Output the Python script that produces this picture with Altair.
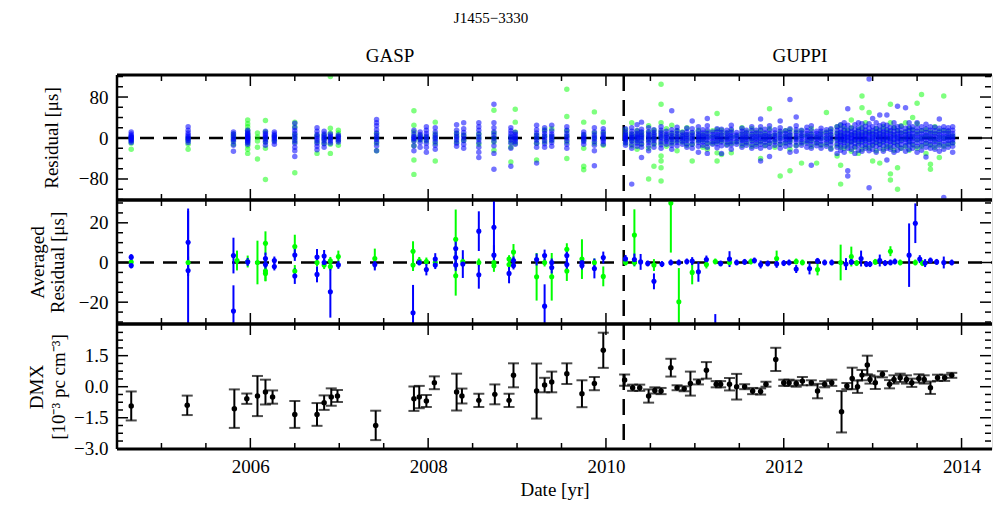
import altair as alt
import pandas as pd

FONT = "Liberation Serif"
W = 875
X_DOMAIN = [2004.5, 2004.5 + W / 88.9]
H_RES, H_AVG, H_DMX = 125, 124, 125
SWITCH_DATE = 2010.2

X_MAJOR = [2006, 2008, 2010, 2012, 2014]
X_MINOR = [2005.0, 2005.5, 2006.5, 2007.0, 2007.5, 2008.5, 2009.0, 2009.5,
           2010.5, 2011.0, 2011.5, 2012.5, 2013.0, 2013.5]

RES_DOMAIN = [-121, 123]
RES_MAJOR = [-80, 0, 80]
RES_MINOR = [-120, -100, -60, -40, -20, 20, 40, 60, 100, 120]
AVG_DOMAIN = [-31, 31.5]
AVG_MAJOR = [-20, 0, 20]
AVG_MINOR = [-30, -25, -15, -10, -5, 5, 10, 15, 25, 30]
DMX_DOMAIN = [-3.01, 3.03]
DMX_MAJOR = [-3.0, -1.5, 0.0, 1.5]
DMX_MINOR = [-2.625, -2.25, -1.875, -1.125, -0.75, -0.375, 0.375, 0.75,
             1.125, 1.875, 2.25, 2.625]

# ---- top panel: per-epoch residuals [us] (blue, green) ----
RES_EPOCHS = [
    (2004.66, "-9 -6 -4 -2 0 1 3 5 8 12", "-22 -10 -4 2"),
    (2005.30, "-9 -5 -2 0 3 6 10 15 22", "-22 -12 -5 0"),
    (2005.81, "-26 -14 -7 -3 0 4 8 12", "-12 -4 3 8"),
    (2005.97, "-12 -9 -6 -4 -2 0 1 3 5 7 9 12 15", "-30 -22 -15 -8 -2 3 9 15 22 28 35"),
    (2006.08, "", "-41 -18 -6 2 10"),
    (2006.17, "-14 -8 -4 0 3 6 9 13", "-81 -20 -8 0 12 34"),
    (2006.27, "-12 -7 -3 0 2 5 8 12", "-5 4"),
    (2006.50, "-36 -25 -18 -10 -5 0 4 9 14 20 29", "-68 -8 0 7 22 31"),
    (2006.75, "-23 -16 -10 -5 -1 3 7 13 20", "-30 -8 5"),
    (2006.83, "-18 -11 -6 -2 1 4 8 13", "-10 -2 6"),
    (2006.90, "-10 -6 -2 1 4 8", "-30 -12 0 10 19 120"),
    (2006.99, "-8 -4 0 3 6", "-14 -5 3 10 15"),
    (2007.42, "-25 -15 -8 -3 1 5 10 16 24 30 36", "-25 -10 0 9"),
    (2007.84, "-25 -15 -6 -2 0 3 8 15", "-71 -43 -15 -5 3 12 25 53"),
    (2007.91, "-18 -9 -3 0 3 7 12", "-4 5"),
    (2007.98, "-28 -18 -10 -4 0 4 9 15 22", "-6 2"),
    (2008.08, "-22 -14 -7 -2 2 6 12 20", "-45 -10 0 8 31"),
    (2008.32, "-16 -10 -4 0 4 9 15 26", "-8 3 10"),
    (2008.40, "-20 -12 -5 0 5 11 18 30", "-5 6"),
    (2008.57, "-38 -28 -18 -9 -3 2 8 15 22 30", "-12 0 8"),
    (2008.74, "-61 -30 -15 -6 0 6 12 20 30 66", "-24 -8 0 10 54"),
    (2008.93, "-55 -20 -10 -4 0 4 9 14 20", "-47 -18 -8 2"),
    (2008.98, "-12 -7 -3 0 3 7 11", "-10 0 12 31 56"),
    (2009.22, "-49 -18 -10 -4 0 5 10 16 25", "-43 -10 0 6"),
    (2009.31, "-18 -11 -5 0 4 9 14 20", "-8 4 16"),
    (2009.39, "-16 -9 -4 0 4 8 14 25", "-5 3 18"),
    (2009.56, "-20 -12 -5 0 4 9 15 22", "-40 -8 4 14 42 95"),
    (2009.75, "-12 -7 -3 0 3 7 12", "-62 -55 -20 -5 6 31"),
    (2009.87, "-54 -25 -14 -7 -2 2 6 12 20", "-10 0 10 51"),
    (2009.97, "-12 -7 -3 0 3 7 12 18", "-14 0 10 31"),
    (2010.22, "-14 -9 -5 -2 0 2 5 8 12 18", "-10 -3 4 9 16"),
    (2010.29, "-90 -20 -12 -6 -2 1 4 8 13 20", "-15 -5 2 8 30"),
    (2010.35, "-16 -10 -5 -1 2 5 9 14 26", "-22 -8 0 6 14"),
    (2010.40, "-38 -18 -11 -5 0 3 7 12 17 31", "-12 -2 5 11"),
    (2010.48, "-25 -15 -9 -4 0 4 8 12 20", "-80 -20 -6 3 12 24"),
    (2010.54, "-18 -10 -5 -1 3 7 11 16", "-55 -12 -2 7 15"),
    (2010.62, "-20 -13 -7 -2 2 6 10 15 22", "-84 -58 -45 -35 -10 2 12 30 66 105"),
    (2010.68, "-12 -7 -3 1 4 8 13", "-16 -4 6 18"),
    (2010.74, "-22 -14 -8 -3 1 5 10 16 53", "-10 0 9 25"),
    (2010.80, "-15 -9 -4 0 4 9 14 21", "-25 -6 5 14"),
    (2010.86, "-12 -6 -2 2 6 11", "-8 3 12"),
    (2010.91, "-18 -11 -5 -1 3 7 12 19", "-14 -3 6 20"),
    (2010.97, "-20 -12 -6 -2 2 6 11 18 33", "-45 -12 0 10"),
    (2011.04, "-28 -16 -9 -4 0 4 8 13 22", "-6 5 15"),
    (2011.09, "-14 -8 -3 1 5 10 16", "-18 -4 7"),
    (2011.14, "-30 -18 -10 -4 0 4 9 15 24 38", "-22 -10 2 12"),
    (2011.20, "-12 -7 -2 2 7 12", "-10 3 14"),
    (2011.25, "-19 -11 -6 -1 3 7 12 18", "-45 -29 -8 4 16 48"),
    (2011.30, "-30 -15 -8 -3 1 6 11 17", "-32 -6 6 15"),
    (2011.36, "-14 -8 -3 1 5 10 15", "-12 0 10"),
    (2011.41, "-22 -13 -7 -2 2 6 11 17 25", "-29 -10 2 14"),
    (2011.47, "-12 -7 -2 2 6 11", "-8 4"),
    (2011.53, "-18 -10 -5 -1 3 8 13 19", "-14 -3 8 20"),
    (2011.58, "-14 -8 -3 1 5 10 15", "-10 2 12"),
    (2011.64, "-20 -12 -6 -1 3 8 14 22", "-16 -4 7 18"),
    (2011.69, "-16 -9 -4 0 4 9 15", "-12 0 11"),
    (2011.74, "-45 -20 -12 -6 -1 3 8 14 22 37", "-40 -8 5 16"),
    (2011.79, "-15 -8 -3 1 5 10 17", "-14 -2 9"),
    (2011.84, "-36 -18 -10 -5 0 4 9 15 24", "-10 4 18 57"),
    (2011.90, "-14 -8 -3 1 5 10 16", "-18 -6 6"),
    (2011.96, "-20 -12 -6 -1 3 8 13 20 33", "-74 -12 0 11"),
    (2012.02, "-16 -9 -4 0 4 9 14", "-10 3 14"),
    (2012.07, "-28 -14 -8 -3 1 6 11 18 75", "-64 -22 -6 6 16"),
    (2012.14, "-26 -15 -8 -3 1 5 10 16 24 41", "-14 0 12"),
    (2012.20, "-14 -8 -3 1 5 10 15", "-49 -10 4 14"),
    (2012.26, "-18 -10 -5 0 4 9 14 21", "-8 5"),
    (2012.31, "-53 -20 -12 -6 -1 3 8 14 24", "-16 -4 8 18"),
    (2012.37, "-15 -9 -4 0 4 9 13", "-49 -10 2"),
    (2012.42, "-20 -12 -6 -1 3 8 13 19", "-14 0 10"),
    (2012.48, "-16 -9 -4 0 5 10 16", "-12 0 12 50"),
    (2012.53, "-22 -13 -7 -2 2 7 12 18", "-20 -6 6 16"),
    (2012.60, "-30 -18 -11 -5 0 4 9 15 22", "-35 -14 -2 10 22"),
    (2012.64, "-24 -14 -8 -3 1 6 11 17 26", "-90 -53 -18 -4 8 25"),
    (2012.68, "-28 -16 -9 -4 0 4 9 15 23 30", "-20 -6 6 18"),
    (2012.72, "-74 -64 -20 -11 -5 0 4 9 15 25 57", "-15 0 14"),
    (2012.76, "-22 -13 -7 -2 2 7 12 19", "-26 -8 6 20 35"),
    (2012.80, "-30 -17 -10 -4 0 5 10 16 26", "-18 -4 10"),
    (2012.84, "-24 -14 -7 -2 3 8 13 20 30", "-30 -10 4 16"),
    (2012.88, "-26 -15 -8 -3 1 6 11 18 28", "-22 -6 8 20 59 82"),
    (2012.92, "-20 -12 -6 -1 4 9 15 23", "-16 -2 12 30"),
    (2012.96, "-97 -25 -15 -8 -3 2 7 12 19 28 115", "-20 -4 10 50"),
    (2013.00, "-22 -13 -7 -2 3 8 14 22 38", "-45 -14 0 12"),
    (2013.04, "-28 -16 -9 -3 2 7 12 19 30", "-25 -8 6 18"),
    (2013.08, "-20 -12 -6 -1 4 9 15 24 45", "-49 -12 2 14"),
    (2013.12, "-26 -15 -8 -3 2 7 12 18 27", "-22 -6 8 22"),
    (2013.16, "-43 -20 -11 -5 0 5 10 16 25 45", "-16 0 14"),
    (2013.20, "-22 -13 -7 -2 3 8 14 21", "-82 -70 -18 -2 12 30 66"),
    (2013.24, "-28 -16 -9 -3 2 7 13 20 30", "-24 -8 6 20"),
    (2013.28, "-24 -14 -7 -2 3 8 14 22 62", "-100 -58 -14 0 14"),
    (2013.32, "-20 -12 -6 -1 4 9 15 23", "-20 -4 10 24"),
    (2013.37, "-26 -15 -8 -3 2 7 12 19 59", "-16 0 12 30"),
    (2013.41, "-22 -13 -7 -2 3 8 14 21 30", "-24 -8 6 18"),
    (2013.45, "-20 -12 -6 -1 4 9 15 22", "-14 2 16 40"),
    (2013.50, "-28 -16 -9 -3 2 7 13 20 30", "-20 -4 10 28 68"),
    (2013.55, "-24 -14 -7 -2 3 8 14 22", "-16 0 14 85"),
    (2013.60, "-37 -18 -10 -4 1 6 11 18 27", "-30 -10 4 16"),
    (2013.65, "-20 -12 -6 -1 4 9 15 22", "-61 -51 -14 0 12"),
    (2013.70, "-22 -13 -7 -2 3 8 14 21", "-18 -4 10 22"),
    (2013.75, "-26 -15 -8 -3 2 7 12 19 37", "-38 -12 2 14"),
    (2013.80, "-116 -22 -13 -6 -1 4 9 15 22", "-16 0 14 82"),
    (2013.85, "-18 -10 -5 0 4 9 14 20", "-12 2 12"),
    (2013.90, "-28 -16 -9 -4 0 4 9 15 22", "-10 4"),
]

# ---- middle panel: averaged residuals (date, value, error) ----
AVG_BLUE = [
    (2004.66, 2.7, 1.5), (2004.66, -1.5, 1.5), (2005.30, 10.2, 17), (2005.30, -4.0, 30),
    (2005.81, 3.5, 9), (2005.81, -24.5, 13), (2005.97, 0.3, 2), (2006.17, 2.0, 3),
    (2006.17, -1.0, 3), (2006.27, 1.0, 2), (2006.27, -2.0, 2), (2006.50, 3.8, 3),
    (2006.50, -6.8, 4), (2006.75, 2.8, 4), (2006.75, -6.0, 4), (2006.83, 3.3, 3),
    (2006.83, 0.0, 2), (2006.90, -14.8, 13), (2006.99, -1.2, 2), (2007.40, -1.0, 3),
    (2007.83, -25.3, 14), (2007.90, 0.0, 1.5), (2007.98, -3.5, 3), (2008.08, 1.7, 3),
    (2008.08, -1.3, 2), (2008.31, 7.0, 4), (2008.31, 2.5, 3), (2008.31, -1.2, 3),
    (2008.39, -0.8, 7), (2008.57, 15.8, 10), (2008.57, -6.2, 7), (2008.74, 17.8, 14),
    (2008.74, 3.7, 5), (2008.91, -5.5, 5), (2008.96, 1.0, 2), (2008.96, -1.5, 2),
    (2009.22, 1.5, 3), (2009.31, 3.5, 3), (2009.31, -22.0, 11), (2009.39, 0.0, 2),
    (2009.39, -2.5, 3), (2009.56, 3.5, 3), (2009.56, -1.0, 3), (2009.73, 0.0, 2),
    (2009.73, -1.5, 2), (2009.87, -3.0, 5), (2009.97, 2.5, 3),
    (2010.22, 1.8, 2), (2010.32, 1.5, 3), (2010.39, 0.3, 4), (2010.47, -0.5, 1.5),
    (2010.54, -9.5, 4), (2010.63, -0.8, 1.5), (2010.73, 0.0, 1.5), (2010.82, 0.0, 1.5),
    (2010.91, 0.5, 1.5), (2010.97, 0.7, 2), (2011.04, -4.7, 5), (2011.13, 1.5, 2),
    (2011.23, -38.0, 12), (2011.29, -0.5, 1.5), (2011.39, 1.7, 4), (2011.47, 0.0, 1.5),
    (2011.56, 0.3, 1.5), (2011.67, 1.0, 1.5), (2011.74, -1.0, 2), (2011.82, -0.5, 1.5),
    (2011.92, -0.7, 2), (2012.00, -0.3, 1.5), (2012.06, 0.0, 1.5), (2012.14, -3.3, 2),
    (2012.29, -3.0, 3), (2012.38, 0.8, 1.5), (2012.46, 0.0, 1.5), (2012.54, 0.0, 1.5),
    (2012.70, -0.8, 3), (2012.76, 0.3, 1.5), (2012.87, 2.0, 4), (2012.93, -0.8, 1.5),
    (2012.97, -0.8, 1.5), (2013.08, 1.0, 3), (2013.14, -0.3, 1.5), (2013.20, 0.0, 1.5),
    (2013.25, 0.5, 1.5), (2013.41, 3.7, 16), (2013.48, 19.8, 10), (2013.53, 1.7, 2),
    (2013.59, -0.3, 2), (2013.65, 1.0, 1.5), (2013.72, 0.3, 1.5), (2013.80, 0.0, 3),
    (2013.89, 0.0, 1.5),
]
AVG_GREEN = [
    (2004.66, 0.2, 3), (2005.30, 0.0, 3), (2005.85, 1.0, 5), (2005.97, 0.5, 3),
    (2006.08, 0.0, 11), (2006.17, 9.7, 6), (2006.17, -4.3, 5), (2006.17, -5.5, 4),
    (2006.50, 8.0, 6), (2006.50, -4.3, 3), (2006.75, 0.0, 2), (2006.83, -1.3, 2),
    (2006.90, 0.8, 2), (2006.90, -2.0, 2), (2006.99, 3.0, 3), (2007.40, 2.0, 5),
    (2007.83, 5.7, 5), (2007.83, -1.3, 3), (2007.90, 0.8, 2), (2007.98, 0.5, 2),
    (2008.08, 0.0, 2), (2008.31, 11.7, 15), (2008.31, -6.7, 10), (2008.39, 0.5, 2),
    (2008.57, 0.0, 2), (2008.74, 0.0, 3), (2008.74, -1.7, 3), (2008.91, 1.7, 2),
    (2008.91, -1.0, 2), (2008.96, 5.3, 4), (2009.22, -7.2, 12), (2009.31, 0.0, 2),
    (2009.39, -7.2, 12), (2009.56, 6.7, 3), (2009.56, -4.3, 5), (2009.73, 1.7, 10),
    (2009.87, 0.0, 2), (2009.97, -7.0, 5),
    (2010.22, 0.0, 1.5), (2010.32, 13.8, 13), (2010.32, 0.0, 2), (2010.54, -1.3, 3),
    (2010.73, 30.0, 25), (2010.82, -19.8, 17), (2010.97, -5.0, 6), (2011.13, -1.0, 2),
    (2011.23, 0.5, 1.5), (2011.39, 0.0, 1.5), (2011.63, 0.5, 1.5), (2011.92, 2.0, 4),
    (2012.14, 0.5, 1.5), (2012.21, 0.0, 1.5), (2012.38, -3.5, 3), (2012.64, 0.0, 9),
    (2012.76, 3.0, 5), (2012.82, -0.3, 1.5), (2013.03, 0.3, 1.5), (2013.20, 5.7, 2.5),
    (2013.31, 0.0, 1.5), (2013.48, 0.0, 1.5), (2013.56, -0.3, 1.5),
]

# ---- bottom panel: DMX [1e-3 pc cm^-3] (date, value, error) ----
DMX = [
    (2004.66, -0.93, 0.70), (2005.29, -0.90, 0.47), (2005.82, -1.06, 0.93), (2005.96, -0.58, 0.25),
    (2006.08, -0.45, 0.97), (2006.17, -0.26, 0.60), (2006.25, -0.50, 0.32), (2006.50, -1.34, 0.65),
    (2006.75, -1.34, 0.55), (2006.83, -0.77, 0.35), (2006.91, -0.50, 0.42), (2006.98, -0.45, 0.29),
    (2007.41, -1.87, 0.71), (2007.84, -0.58, 0.59), (2007.90, -0.50, 0.54), (2007.98, -0.69, 0.29),
    (2008.07, 0.19, 0.31), (2008.32, -0.26, 0.89), (2008.38, -0.45, 0.36), (2008.57, -0.66, 0.32),
    (2008.75, -0.37, 0.48), (2008.91, -0.66, 0.32), (2008.96, 0.55, 0.58), (2009.22, -0.21, 1.33),
    (2009.31, 0.08, 0.35), (2009.39, 0.23, 0.50), (2009.56, 0.63, 0.50), (2009.73, -0.34, 0.65),
    (2009.87, 0.15, 0.32), (2009.97, 1.76, 0.85),
    (2010.21, 0.32, 0.27), (2010.30, -0.05, 0.15), (2010.38, -0.05, 0.15), (2010.48, -0.45, 0.32),
    (2010.55, -0.18, 0.15), (2010.62, -0.21, 0.15), (2010.73, 0.92, 0.43), (2010.80, -0.05, 0.12),
    (2010.88, -0.10, 0.12), (2010.95, 0.15, 0.58), (2011.04, 0.23, 0.12), (2011.13, 0.79, 0.40),
    (2011.24, 0.12, 0.15), (2011.29, 0.12, 0.15), (2011.39, 0.12, 0.30), (2011.47, 0.00, 0.62),
    (2011.56, 0.00, 0.12), (2011.65, -0.21, 0.15), (2011.74, -0.23, 0.15), (2011.80, 0.12, 0.12),
    (2011.91, 1.32, 0.56), (2012.00, 0.19, 0.15), (2012.06, 0.19, 0.15), (2012.14, 0.15, 0.15),
    (2012.21, 0.27, 0.20), (2012.31, 0.19, 0.12), (2012.38, -0.21, 0.35), (2012.46, 0.12, 0.15),
    (2012.54, 0.19, 0.15), (2012.65, -1.21, 1.00), (2012.71, 0.03, 0.15), (2012.77, 0.40, 0.52),
    (2012.83, 0.00, 0.30), (2012.88, 0.56, 0.25), (2012.94, 1.05, 0.45), (2012.97, 0.35, 0.20),
    (2013.03, 0.19, 0.30), (2013.11, 0.60, 0.15), (2013.19, 0.12, 0.20), (2013.24, 0.35, 0.20),
    (2013.31, 0.43, 0.20), (2013.38, 0.35, 0.20), (2013.44, 0.19, 0.20), (2013.52, 0.40, 0.20),
    (2013.58, 0.35, 0.20), (2013.65, -0.05, 0.30), (2013.73, 0.43, 0.15), (2013.81, 0.43, 0.15),
    (2013.89, 0.55, 0.12),
]

BLUE = "#0000ff"
GREEN = "#00ff00"


def res_frame(col):
    rows = []
    for d, b, g in RES_EPOCHS:
        s = b if col == "b" else g
        for v in s.split():
            rows.append({"date": d, "res": float(v)})
    return pd.DataFrame(rows)


def err_frame(lst):
    return pd.DataFrame([{"date": d, "val": v, "lo": v - e, "hi": v + e} for d, v, e in lst])


XS = alt.Scale(domain=X_DOMAIN, nice=False, zero=False)


def y_axis(title, values, fmt, title_x, line_height=20):
    return alt.Axis(values=values, format=fmt, title=title, labelFont=FONT, labelFontSize=19,
                    labelColor="black", labelPadding=9, labelOverlap=False, labelFlush=False,
                    ticks=False, tickSize=0, domain=False, grid=False,
                    titleFont=FONT, titleFontSize=19, titleFontWeight="normal", titleColor="black",
                    titleX=title_x, titleAlign="center", titleBaseline="middle",
                    titleLineHeight=line_height)


X_AXIS_BOTTOM = alt.Axis(values=X_MAJOR, format="d", title="Date [yr]", labelFont=FONT,
                         labelFontSize=19, labelColor="black", labelPadding=8, labelFlush=False,
                         labelOverlap=False, ticks=False, tickSize=0, domain=False, grid=False,
                         titleFont=FONT, titleFontSize=19, titleFontWeight="normal",
                         titleColor="black", titlePadding=4)


def panel(H, y_domain, y_major, y_minor, yax, xax, data_layers, zero_line=True, extra=None):
    ys = alt.Scale(domain=y_domain, nice=False, zero=False)

    def X(f):
        return alt.X(f, type="quantitative", scale=XS, axis=xax)

    def Y(f):
        return alt.Y(f, type="quantitative", scale=ys, axis=yax)

    layers = []
    if zero_line:
        layers.append(alt.Chart(pd.DataFrame({"v": [0.0]})).mark_rule(
            color="black", strokeWidth=2.5, strokeDash=[14, 9]).encode(
            y=Y("v"), x=alt.value(0), x2=alt.value(W)))
    layers.append(alt.Chart(pd.DataFrame({"d": [SWITCH_DATE]})).mark_rule(
        color="black", strokeWidth=2.5, strokeDash=[16, 9]).encode(
        x=X("d"), y=alt.value(0), y2=alt.value(H)))
    layers += data_layers(X, Y)
    # inward ticks
    for vals, ln in ((X_MAJOR, 11), (X_MINOR, 6)):
        df = pd.DataFrame({"t": vals})
        layers.append(alt.Chart(df).mark_rule(color="black", strokeWidth=1.5).encode(
            x=X("t"), y=alt.value(0), y2=alt.value(ln)))
        layers.append(alt.Chart(df).mark_rule(color="black", strokeWidth=1.5).encode(
            x=X("t"), y=alt.value(H), y2=alt.value(H - ln)))
    for vals, ln in ((y_major, 11), (y_minor, 6)):
        df = pd.DataFrame({"t": vals})
        layers.append(alt.Chart(df).mark_rule(color="black", strokeWidth=1.5).encode(
            y=Y("t"), x=alt.value(0), x2=alt.value(ln)))
        layers.append(alt.Chart(df).mark_rule(color="black", strokeWidth=1.5).encode(
            y=Y("t"), x=alt.value(W - 1), x2=alt.value(W - 1 - ln)))
    # frame (left, top, bottom)
    one = pd.DataFrame({"k": [0]})
    layers.append(alt.Chart(one).mark_rule(color="black", strokeWidth=2.5).encode(
        x=alt.value(0), y=alt.value(0), y2=alt.value(H)))
    layers.append(alt.Chart(one).mark_rule(color="black", strokeWidth=3).encode(
        x=alt.value(0), x2=alt.value(W), y=alt.value(0)))
    layers.append(alt.Chart(one).mark_rule(color="black", strokeWidth=3).encode(
        x=alt.value(0), x2=alt.value(W), y=alt.value(H)))
    if extra:
        layers += extra
    return alt.layer(*layers).properties(width=W, height=H)


def res_layers(X, Y):
    out = []
    for col, c, op in (("g", GREEN, 0.5), ("b", BLUE, 0.55)):
        out.append(alt.Chart(res_frame(col)).mark_circle(
            size=30, opacity=op, color=c, clip=True).encode(x=X("date"), y=Y("res")))
    return out


def avg_layers(X, Y):
    out = []
    for lst, c in ((AVG_GREEN, GREEN), (AVG_BLUE, BLUE)):
        df = err_frame(lst)
        out.append(alt.Chart(df).mark_rule(color=c, strokeWidth=2, clip=True).encode(
            x=X("date"), y=Y("lo"), y2=alt.Y2("hi")))
    for lst, c in ((AVG_GREEN, GREEN), (AVG_BLUE, BLUE)):
        df = err_frame(lst)
        out.append(alt.Chart(df).mark_circle(size=26, opacity=1, color=c, clip=True).encode(
            x=X("date"), y=Y("val")))
    return out


def dmx_layers(X, Y):
    df = err_frame(DMX)
    return [
        alt.Chart(df).mark_rule(color="black", strokeWidth=2).encode(
            x=X("date"), y=Y("lo"), y2=alt.Y2("hi")),
        alt.Chart(df).mark_tick(color="black", orient="horizontal", size=11, thickness=2).encode(
            x=X("date"), y=Y("lo")),
        alt.Chart(df).mark_tick(color="black", orient="horizontal", size=11, thickness=2).encode(
            x=X("date"), y=Y("hi")),
        alt.Chart(df).mark_circle(size=30, opacity=1, color="black").encode(
            x=X("date"), y=Y("val")),
    ]


one = pd.DataFrame({"k": [0]})
labels = [
    alt.Chart(one).mark_text(text="J1455\u22123330", font=FONT, fontSize=15, color="black",
                             align="center", baseline="alphabetic").encode(
        x=alt.value(374), y=alt.value(-52)),
    alt.Chart(one).mark_text(text="GASP", font=FONT, fontSize=19, color="black",
                             align="center", baseline="alphabetic").encode(
        x=alt.value(273), y=alt.value(-13)),
    alt.Chart(one).mark_text(text="GUPPI", font=FONT, fontSize=19, color="black",
                             align="center", baseline="alphabetic").encode(
        x=alt.value(683), y=alt.value(-13)),
]

top = panel(H_RES, RES_DOMAIN, RES_MAJOR, RES_MINOR,
            y_axis("Residual [\u03bcs]", RES_MAJOR, "d", -66), None, res_layers, extra=labels)
mid = panel(H_AVG, AVG_DOMAIN, AVG_MAJOR, AVG_MINOR,
            y_axis(["Averaged", "Residual [\u03bcs]"], AVG_MAJOR, "d", -80, 20), None, avg_layers)
bot = panel(H_DMX, DMX_DOMAIN, DMX_MAJOR, DMX_MINOR,
            y_axis(["DMX", "[10\u207b\u00b3 pc cm\u207b\u00b3]"], DMX_MAJOR, ".1f", -81, 22),
            X_AXIS_BOTTOM, dmx_layers, zero_line=False)

chart = alt.vconcat(top, mid, bot, spacing=0, bounds="flush").properties(
    padding={"left": 18, "top": 2, "right": 0, "bottom": 0}
).configure_view(stroke=None).configure(background="white")

chart.save("out.html", embed_options={"renderer": "svg", "actions": False})
